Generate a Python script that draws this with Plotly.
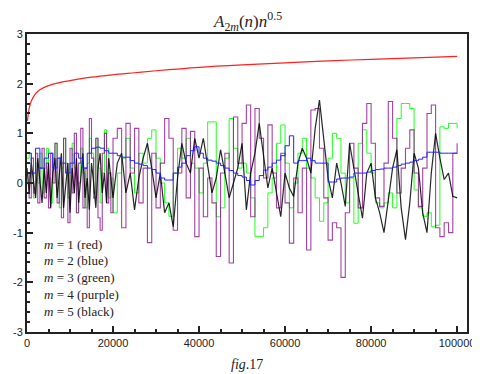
import plotly.graph_objects as go

# ---- data ----
red_n = [100, 500, 1000, 2000, 3000, 5000, 7500, 10000, 15000, 20000, 25000, 30000,
         40000, 50000, 60000, 70000, 80000, 90000, 100000]
red_y = [1.25, 1.5, 1.65, 1.8, 1.88, 1.96, 2.02, 2.06, 2.13, 2.18, 2.22, 2.26,
         2.33, 2.38, 2.42, 2.46, 2.49, 2.52, 2.55]

# sample positions: every 500 up to 19500, then every 1000 up to 100000
n_fine = [i * 500 for i in range(40)] + [20000 + i * 1000 for i in range(81)]

green_y = [0.5, 0.6, 0.2, -0.3, 0.4, 0.0, 0.6, -0.2, 0.3, 0.7, 0.1, -0.4, 0.5, 0.8, 0.0, -0.5,
           0.3, 0.9, 0.4, -0.3, 0.2, 0.8, 0.3, -0.6, 0.0, 0.7, 0.2, -0.5, 0.4, 0.9, 0.6, -0.2,
           0.9, 0.3, -0.4, 0.2, 1.07, 0.7, -0.3, 0.1,
           -0.6, 0.2, 0.5, 0.9, 0.3, -0.2, 0.6, 0.4, 0.9, 1.07, 0.5, 0.0, -0.4, -0.67, 0.2, 0.7,
           0.5, 0.9, 0.4, 0.3, -0.2, 0.4, 1.23, 1.23, -0.68, -0.5, 0.5, 1.3, 0.7, 0.3, 0.4, 0.2,
           -0.3, -1.08, -1.08, -0.9, -0.2, 0.1, 0.8, 1.17, 0.4, -0.5, 0.0, 0.6, 0.9, 0.3, 0.1,
           -0.3, -0.77, -0.4, 0.5, 1.0, 0.9, 0.2, -0.4, 0.1, -0.81, 0.8, 1.07, 0.6, 0.2, -0.4,
           -0.5, -0.4, -0.2, -0.5, 1.3, 1.6, 1.6, 1.5, -0.14, -0.5, -0.67, -0.6, -0.88, -0.85,
           1.13, 1.1, 1.2, 1.2, 1.1]

purple_y = [0.2, -0.3, 0.5, -0.2, 0.6, -0.4, 0.3, 0.7, -0.3, 0.4, -0.5, 0.6, 0.0, 0.8, -0.4,
            0.5, -0.7, 0.9, 0.2, -0.8, 0.7, -0.2, 1.0, -0.6, 0.4, 1.1, -0.5, 0.3, -0.9, 1.3,
            0.5, -0.3, 0.9, -0.7, -0.95, 0.6, 1.0, -0.4, 0.2, -0.6,
            0.9, 1.1, -0.9, 1.2, 0.2, 1.1, -0.4, 0.3, -1.2, 0.6, -0.5, 0.4, 1.3, 0.9, -0.95,
            0.2, 1.1, -0.3, 1.04, -1.08, 0.3, -0.68, 0.1, -0.4, -1.48, 0.2, 0.6, -1.61, 1.33,
            0.4, 1.2, 1.57, -0.68, 1.5, 0.9, 0.1, 1.17, 0.2, -0.5, 0.6, -0.4, -1.21, 0.1, -0.6,
            0.3, -1.35, 1.47, 1.5, 0.7, -0.3, -1.15, -0.8, -0.9, -1.9, -0.6, 0.8, 0.3, -0.5,
            1.2, 1.6, 0.8, -0.3, -0.47, 0.4, 1.64, 0.9, -0.2, 0.3, 0.7, 1.07, 0.2, -0.47, 0.3,
            1.4, 1.57, -0.9, -1.08, -0.8, -1.0, 0.6, 0.8]

black_y = [0.3, -0.2, 0.4, 0.0, -0.3, 0.5, 0.1, -0.4, 0.3, -0.2, 0.4, -0.5, 0.2, 0.5, -0.3,
           0.1, 0.6, -0.5, 0.0, 0.4, -0.6, 0.3, -0.2, 0.5, -0.4, 0.2, 0.6, -0.3, 0.1, -0.54,
           0.4, 0.0, -0.5, 0.3, 0.6, -0.2, 0.2, -0.4, 0.5, 0.1,
           -0.3, 0.4, 0.6, -0.2, 0.2, -0.54, 0.1, 0.5, 0.8, 0.3, -0.3, 0.2, -0.6, -0.4, -0.88,
           0.1, 0.8, 0.4, 0.2, 0.9, 0.5, 0.9, 0.3, -0.2, 0.1, 0.67, 0.2, -0.3, 0.0, 0.3, 0.8,
           -0.54, 0.2, 0.6, 1.2, 0.5, -0.1, 0.3, -0.2, -0.68, 0.2, -0.1, -0.27, 0.4, 0.7, 0.5,
           0.2, 1.1, 1.67, 0.9, 0.1, -0.3, 0.4, 0.0, -0.47, 0.8, 0.3, -0.2, -0.71, 0.2, 0.4,
           -0.3, -0.6, -1.0, -0.4, 0.3, 0.67, -0.5, -1.14, -0.4, 0.6, 0.3, -0.6, -1.0, 0.2, 1.0,
           0.5, 0.07, 0.2, -0.27, -0.3]

blue_n = [i * 1000 for i in range(101)]
blue_y = [0.6, 0.2, 0.7, 0.3, 0.5, 0.6, 0.3, 0.5, 0.4, 0.2, 0.4, 0.6, 0.5, 0.3, 0.6, 0.7,
          0.72, 0.7, 0.65, 0.6, 0.6, 0.55, 0.52, 0.52, 0.45, 0.4, 0.38, 0.35, 0.3, 0.27, 0.2,
          0.1, 0.06, 0.06, 0.2, 0.32, 0.4, 0.55, 0.65, 0.73, 0.6, 0.5, 0.46, 0.44, 0.4, 0.35,
          0.3, 0.25, 0.2, 0.15, 0.12, 0.05, -0.04, 0.05, 0.15, 0.26, 0.32, 0.4, 0.46, 0.55,
          0.75, 0.95, 0.4, 0.45, 0.45, 0.5, 0.45, 0.4, 0.4, 0.4, 0.02, 0.02, 0.08, 0.1, 0.1,
          0.12, 0.2, 0.2, 0.2, 0.22, 0.25, 0.27, 0.28, 0.3, 0.3, 0.32, 0.35, 0.38, 0.4, 0.42,
          0.45, 0.48, 0.52, 0.62, 0.62, 0.62, 0.6, 0.6, 0.6, 0.6, 0.6]

legend_lines = ["<i>m</i> = 1 (red)", "<i>m</i> = 2 (blue)", "<i>m</i> = 3 (green)",
                "<i>m</i> = 4 (purple)", "<i>m</i> = 5 (black)"]
x_ticks = [0, 20000, 40000, 60000, 80000, 100000]
y_ticks = [-3, -2, -1, 0, 1, 2, 3]

fig = go.Figure()
fig.add_trace(go.Scatter(x=n_fine, y=green_y, mode="lines", line=dict(color="#22ff22", width=1, shape="hv")))
fig.add_trace(go.Scatter(x=n_fine, y=purple_y, mode="lines", line=dict(color="rgba(140,20,140,0.8)", width=1.1, shape="hv")))
fig.add_trace(go.Scatter(x=n_fine, y=black_y, mode="lines", line=dict(color="rgba(0,0,0,0.85)", width=1.2)))
fig.add_trace(go.Scatter(x=blue_n, y=blue_y, mode="lines", line=dict(color="#2222ff", width=1, shape="hv")))
fig.add_trace(go.Scatter(x=red_n, y=red_y, mode="lines", line=dict(color="#ff2020", width=1.2, shape="spline")))

serif = "Liberation Serif, DejaVu Serif, serif"
for i, t in enumerate(legend_lines):
    fig.add_annotation(x=0.033, y=-1.23 - i * 0.337, xref="paper", yref="y", text=t,
                       showarrow=False, xanchor="left", yanchor="middle",
                       font=dict(family=serif, size=13, color="#222"))

fig.add_annotation(x=0.5, y=1.042, xref="paper", yref="paper", yanchor="middle",
                   text="<i>A</i><sub>2<i>m</i></sub>(<i>n</i>)<i>n</i><sup>0.5</sup>",
                   showarrow=False, font=dict(family=serif, size=17, color="#222"))
fig.add_annotation(x=0.5, y=-0.11, xref="paper", yref="paper", yanchor="middle",
                   text="<i>fig</i>.17", showarrow=False,
                   font=dict(family=serif, size=14, color="#222"))

axis_common = dict(showline=True, linewidth=2, linecolor="#222", mirror=True,
                   ticks="inside", tickcolor="#222", tickwidth=1.5, ticklen=6,
                   showgrid=False, zeroline=False, ticklabeloverflow="allow",
                   tickfont=dict(family="Liberation Sans, Arial, sans-serif", size=11, color="#222"))
fig.update_xaxes(range=[0, 102300], tickvals=x_ticks, ticktext=[str(v) for v in x_ticks],
                 minor=dict(dtick=5000, ticks="inside", ticklen=3, tickcolor="#222"),
                 **axis_common)
fig.update_yaxes(range=[-3, 3], tickvals=y_ticks, ticktext=[str(v) for v in y_ticks],
                 minor=dict(dtick=0.2, ticks="inside", ticklen=3, tickcolor="#222"),
                 **axis_common)
# the page places the figure 8px in from the top-left corner
fig.update_layout(width=472, height=366, margin=dict(l=17, r=5, t=26, b=42),
                  paper_bgcolor="white", plot_bgcolor="white", showlegend=False)
fig.write_html("out.html")
